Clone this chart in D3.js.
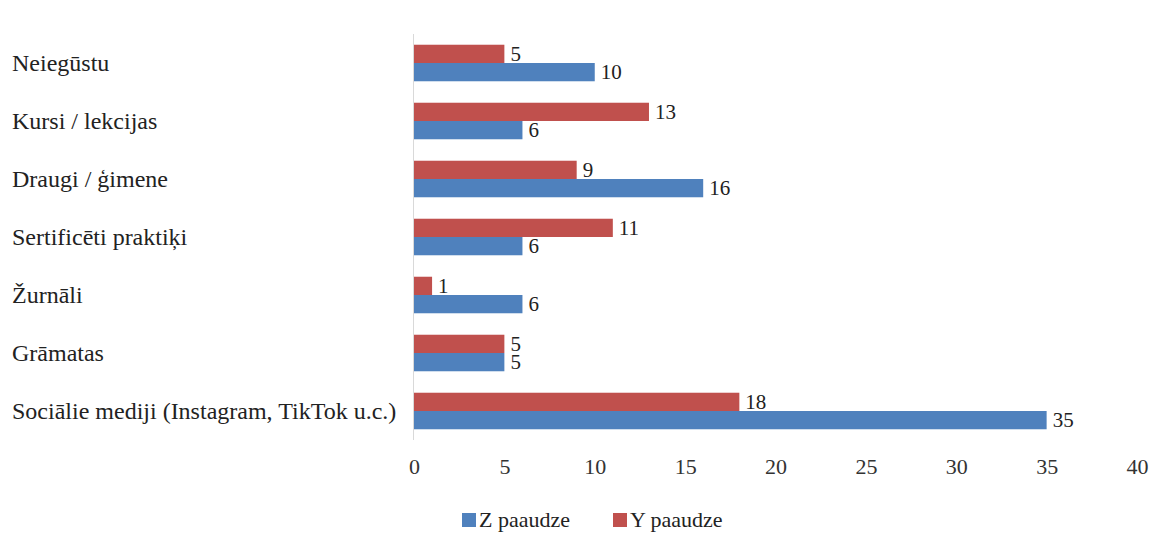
<!DOCTYPE html>
<html><head><meta charset="utf-8">
<script src="https://cdn.jsdelivr.net/npm/d3@7"></script>
<style>body{margin:0;background:#fff}svg{display:block}</style>
</head><body>
<svg id="c" width="1151" height="535"></svg>
<script>
const categories = ["Neiegūstu","Kursi / lekcijas","Draugi / ģimene","Sertificēti praktiķi","Žurnāli","Grāmatas","Sociālie mediji (Instagram, TikTok u.c.)"];
const seriesNames = ["Y paaudze","Z paaudze"];
const yValues = [5,13,9,11,1,5,18];
const zValues = [10,6,16,6,6,5,35];
const xTicks = [0,5,10,15,20,25,30,35,40];
const colors = {"Y paaudze":"#C0504D","Z paaudze":"#4F81BD"};

const svg = d3.select("#c");
const font = "'Liberation Serif', 'Times New Roman', serif";
const x = d3.scaleLinear().domain([0,40]).range([414,1137]);
const y = d3.scaleBand().domain(categories).range([34,440]).paddingInner(0.37).paddingOuter(0.185);
const sub = d3.scaleBand().domain(seriesNames).range([0,y.bandwidth()]);

svg.append("line").attr("x1",x(0)-0.5).attr("x2",x(0)-0.5).attr("y1",34).attr("y2",440)
  .attr("stroke","#d9d9d9").attr("stroke-width",1);

const data = [];
categories.forEach((c,i)=>{
  data.push({c, s:"Y paaudze", v:yValues[i]});
  data.push({c, s:"Z paaudze", v:zValues[i]});
});

svg.append("g").selectAll("rect").data(data).join("rect")
  .attr("x",x(0)).attr("y",d=>y(d.c)+sub(d.s))
  .attr("width",d=>x(d.v)-x(0)).attr("height",sub.bandwidth())
  .attr("fill",d=>colors[d.s]);

svg.append("g").selectAll("text").data(data).join("text")
  .attr("x",d=>x(d.v)+6).attr("y",d=>y(d.c)+sub(d.s)+sub.bandwidth()/2)
  .attr("dy","0.33em").attr("font-family",font).attr("font-size",21).attr("fill","#222")
  .text(d=>d.v);

svg.append("g").selectAll("text").data(categories).join("text")
  .attr("x",12).attr("y",d=>y(d)+y.bandwidth()/2).attr("dy","0.35em")
  .attr("font-family",font).attr("font-size",24).attr("fill","#222").text(d=>d);

const ax = svg.append("g").attr("transform","translate(0,452)")
  .call(d3.axisBottom(x).tickValues(xTicks).tickSize(0).tickPadding(6));
ax.select(".domain").remove();
ax.selectAll("text").attr("font-family",font).attr("font-size",22).attr("fill","#333");

const legend = [{s:"Z paaudze",x:462},{s:"Y paaudze",x:613}];
const lg = svg.append("g").selectAll("g").data(legend).join("g")
  .attr("transform",d=>`translate(${d.x},519)`);
lg.append("rect").attr("x",0).attr("y",-6).attr("width",14).attr("height",14).attr("fill",d=>colors[d.s]);
lg.append("text").attr("x",17).attr("y",0).attr("dy","0.35em").attr("font-family",font)
  .attr("font-size",22).attr("fill","#222").text(d=>d.s);
</script>
</body></html>
